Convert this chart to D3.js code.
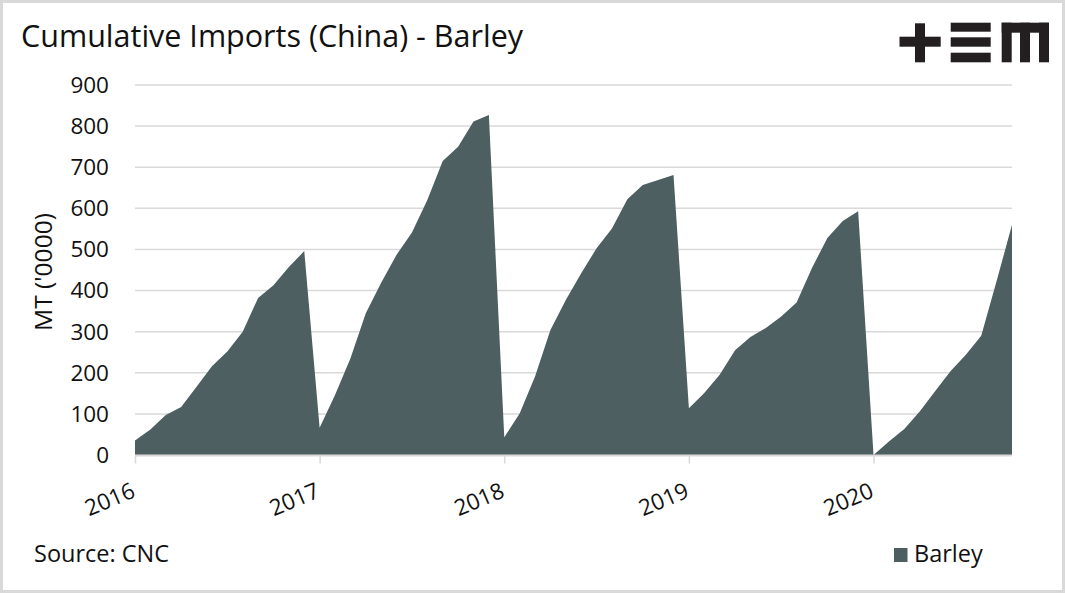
<!DOCTYPE html>
<html>
<head>
<meta charset="utf-8">
<script src="https://cdn.jsdelivr.net/npm/d3@7"></script>
<style>
  html, body { margin: 0; padding: 0; background: #fff; }
  svg { display: block; font-family: "Open Sans", sans-serif; }
</style>
</head>
<body>
<svg id="chart" width="1065" height="593"></svg>
<script>
// ---- data ----
const title = "Cumulative Imports (China) - Barley";
const yAxisTitle = "MT ('0000)";
const sourceText = "Source: CNC";
const seriesName = "Barley";
const startMonth = "2016-01";
const endMonth = "2020-10";
const barley2016 = [35, 62, 97, 117, 166, 216, 252, 300, 382, 413, 457, 496];
const barley2017 = [66, 146, 235, 345, 419, 487, 541, 620, 715, 750, 811, 827];
const barley2018 = [43, 101, 191, 304, 377, 442, 503, 551, 622, 657, 669, 681];
const barley2019 = [114, 151, 195, 255, 287, 309, 337, 371, 455, 528, 569, 593];
const barley2020 = [0, 33, 63, 106, 155, 204, 244, 290, 423, 560];
const yTicks = [0, 100, 200, 300, 400, 500, 600, 700, 800, 900];
const xTickLabels = ["2016", "2017", "2018", "2019", "2020"];

const values = [].concat(barley2016, barley2017, barley2018, barley2019, barley2020);
const parse = d3.timeParse("%Y-%m");
const months = d3.timeMonth.range(parse(startMonth), d3.timeMonth.offset(parse(endMonth), 1));
const data = months.map((m, i) => ({ idx: i, date: m, v: values[i] }));

const svg = d3.select("#chart");
const W = 1065, H = 593;
const color = "#4d5f60";
const grid = "#d9d9d9";

// outer frame
svg.append("rect").attr("x", 1.5).attr("y", 1.5).attr("width", W - 3).attr("height", H - 3)
  .attr("fill", "#fff").attr("stroke", "#d9d9d9").attr("stroke-width", 3);

// scales: months evenly spaced (index-based)
const x = d3.scaleLinear().domain([0, data.length - 1]).range([135, 1012]);
const y = d3.scaleLinear().domain([0, 900]).range([455, 85]);

// gridlines
svg.append("g").selectAll("line").data(yTicks.filter(d => d > 0)).join("line")
  .attr("x1", x.range()[0]).attr("x2", x.range()[1])
  .attr("y1", d => y(d)).attr("y2", d => y(d))
  .attr("stroke", grid).attr("stroke-width", 1.5);

// area
const area = d3.area().x(d => x(d.idx)).y0(y(0)).y1(d => y(d.v));
svg.append("path").datum(data).attr("d", area).attr("fill", color);

// y axis labels
const yAxis = d3.axisLeft(y).tickValues(yTicks).tickSize(0).tickPadding(26);
const gy = svg.append("g").attr("transform", `translate(135,0)`).call(yAxis);
gy.select(".domain").remove();
gy.selectAll("text").attr("font-size", 22.5).attr("fill", "#111")
  .attr("font-family", "Open Sans, sans-serif").attr("dy", "0.33em");

// x axis
const yearIdx = xTickLabels.map(s => months.findIndex(m => d3.timeFormat("%Y-%m")(m) === s + "-01"));
const xAxis = d3.axisBottom(x).tickValues(yearIdx).tickSize(8).tickFormat((d, i) => xTickLabels[i]);
const gx = svg.append("g").attr("transform", `translate(0,${y(0) + 0.5})`).call(xAxis);
gx.select(".domain").attr("stroke", grid).attr("stroke-width", 2).attr("d", `M${x.range()[0]},0H${x.range()[1]}`);
gx.selectAll(".tick line").attr("stroke", grid).attr("stroke-width", 1.5);
gx.selectAll(".tick text").attr("font-size", 22.5).attr("fill", "#111")
  .attr("font-family", "Open Sans, sans-serif")
  .attr("text-anchor", "end").attr("dy", null).attr("y", null)
  .attr("transform", "translate(1,41) rotate(-23)");

// y axis title
svg.append("text").attr("transform", "translate(52,272) rotate(-90)")
  .attr("text-anchor", "middle").attr("font-size", 24.5).attr("fill", "#111").text(yAxisTitle);

// title
svg.append("text").attr("x", 21).attr("y", 47).attr("font-size", 30.5).attr("fill", "#111").text(title);

// logo
const logo = svg.append("g").attr("fill", "#231f20");
[[899.5, 36.7, 41.2, 10], [915, 23.3, 10, 39],
 [950.7, 22.7, 40, 9], [950.7, 37.3, 40, 9.4], [950.7, 52.7, 40, 9.6],
 [1001.7, 22.7, 47.3, 10], [1001.7, 22.7, 10, 39.6], [1020, 22.7, 10, 39.6], [1039, 22.7, 10, 39.6]]
  .forEach(r => logo.append("rect").attr("x", r[0]).attr("y", r[1]).attr("width", r[2]).attr("height", r[3]));

// source
svg.append("text").attr("x", 34).attr("y", 562).attr("font-size", 23.5).attr("fill", "#111").text(sourceText);

// legend
svg.append("rect").attr("x", 894).attr("y", 548).attr("width", 13.5).attr("height", 14).attr("fill", color);
svg.append("text").attr("x", 914).attr("y", 562).attr("font-size", 23.5).attr("fill", "#111").text(seriesName);
</script>
</body>
</html>
